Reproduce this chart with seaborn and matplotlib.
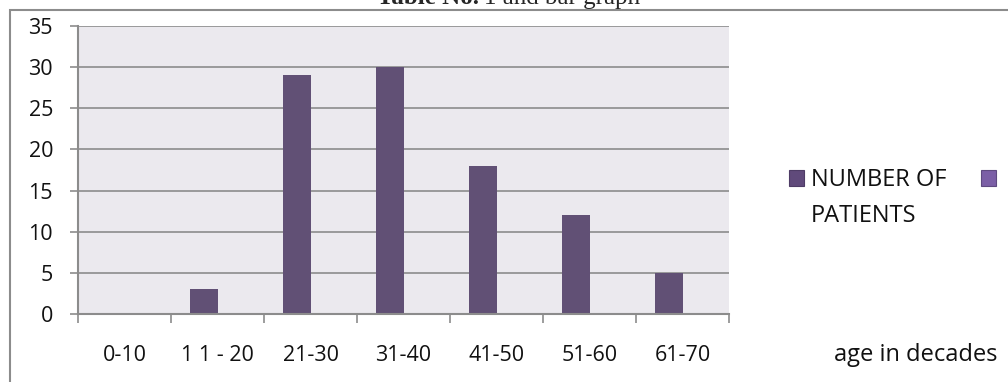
import matplotlib
matplotlib.use("Agg")
import matplotlib.pyplot as plt
import seaborn as sns
import pandas as pd
from matplotlib.patches import Patch, Rectangle

# ---- data ----
categories = ["0-10", "1 1 - 20", "21-30", "31-40", "41-50", "51-60", "61-70"]
patients = [0, 3, 29, 30, 18, 12, 5]
second_series = [0, 0, 0, 0, 0, 0, 0]
series_names = ["NUMBER OF PATIENTS", " "]
y_ticks = [0, 5, 10, 15, 20, 25, 30, 35]

df = pd.DataFrame({
    "age": categories * 2,
    "value": patients + second_series,
    "series": [series_names[0]] * len(categories) + [series_names[1]] * len(categories),
})

sns.set_theme(style="white")
FONT = "Open Sans"
plt.rcParams["font.family"] = [FONT, "DejaVu Sans"]
FS = 15.5      # tick labels
FS2 = 17       # legend / axis title
TXT = "#111111"

W, H = 1008, 382
fig = plt.figure(figsize=(W / 100, H / 100), dpi=100)
fig.patch.set_facecolor("white")

# axes in pixel coordinates
x0, x1, ytop, ybot = 78, 729, 26, 314
ax = fig.add_axes([x0 / W, 1 - ybot / H, (x1 - x0) / W, (ybot - ytop) / H])

bar_color = "#604a7b"
second_color = "#7b5fa6"
sns.barplot(data=df, x="age", y="value", hue="series", order=categories,
            hue_order=series_names, palette=[bar_color, second_color],
            width=0.6, dodge=True, linewidth=0, ax=ax, legend=False,
            errorbar=None)

ax.set_facecolor("#ebe9ee")
ax.set_ylim(0, 35)
ax.set_xlim(-0.5, len(categories) - 0.5)
ax.set_yticks(y_ticks)
ax.set_axisbelow(True)
ax.yaxis.grid(True, color="#8c8c8c", linewidth=1.2)
ax.xaxis.grid(False)

for side in ["top", "right"]:
    ax.spines[side].set_visible(False)
for side in ["left", "bottom"]:
    ax.spines[side].set_visible(True)
    ax.spines[side].set_color("#8c8c8c")
    ax.spines[side].set_linewidth(1.5)

# x tick marks on category boundaries, labels at centers
ax.set_xticks([i - 0.5 for i in range(len(categories) + 1)])
ax.set_xticklabels([])
ax.set_xticks(range(len(categories)), minor=True)
ax.set_xticklabels(categories, minor=True, fontsize=FS, color=TXT)
ax.tick_params(axis="x", which="major", direction="out", length=6.5,
               width=1.2, color="#8c8c8c", bottom=True)
ax.tick_params(axis="x", which="minor", length=0, pad=22, bottom=True)
ax.tick_params(axis="y", which="major", direction="out", length=6,
               width=1.2, color="#8c8c8c", left=True, pad=12,
               labelsize=FS, labelcolor=TXT)
ax.set_xlabel("")
ax.set_ylabel("")

# axis title at right
fig.text(997 / W, 1 - 355 / H, "age in decades", ha="right", va="center",
         fontsize=FS2, color=TXT)

# legend
handles = [Patch(facecolor=bar_color, edgecolor="#4e3c66", linewidth=0.8),
           Patch(facecolor=second_color, edgecolor="#5e4a80", linewidth=0.8)]
leg = ax.legend(handles, ["NUMBER OF", ""], ncol=2, frameon=False,
                loc="center left", bbox_to_anchor=(789 / W, 1 - 180 / H),
                bbox_transform=fig.transFigure, fontsize=FS2,
                labelcolor=TXT,
                handlelength=0.64, handleheight=0.64, handletextpad=0.3,
                columnspacing=1.45, borderpad=0, borderaxespad=0)
fig.text(811 / W, 1 - 216 / H, "PATIENTS", ha="left", va="center",
         fontsize=FS2, color=TXT)

# outer chart frame (clipped)
fig.add_artist(Rectangle((10 / W, -0.1), 1.2, (1 - 10 / H) + 0.1,
                         transform=fig.transFigure, fill=False,
                         edgecolor="#8c8c8c", linewidth=1.5))

# title, clipped at the top as in the reference
t1 = fig.text(377 / W, 1 - 4 / H, "Table No.", ha="left", va="baseline",
              fontsize=18, fontweight="bold", family="Liberation Serif")
fig.canvas.draw()
bb = t1.get_window_extent(renderer=fig.canvas.get_renderer())
fig.text((bb.x1 + 5) / W, 1 - 4 / H, "1 and bar graph", ha="left",
         va="baseline", fontsize=18, family="Liberation Serif")

fig.savefig("out.png", dpi=100)
